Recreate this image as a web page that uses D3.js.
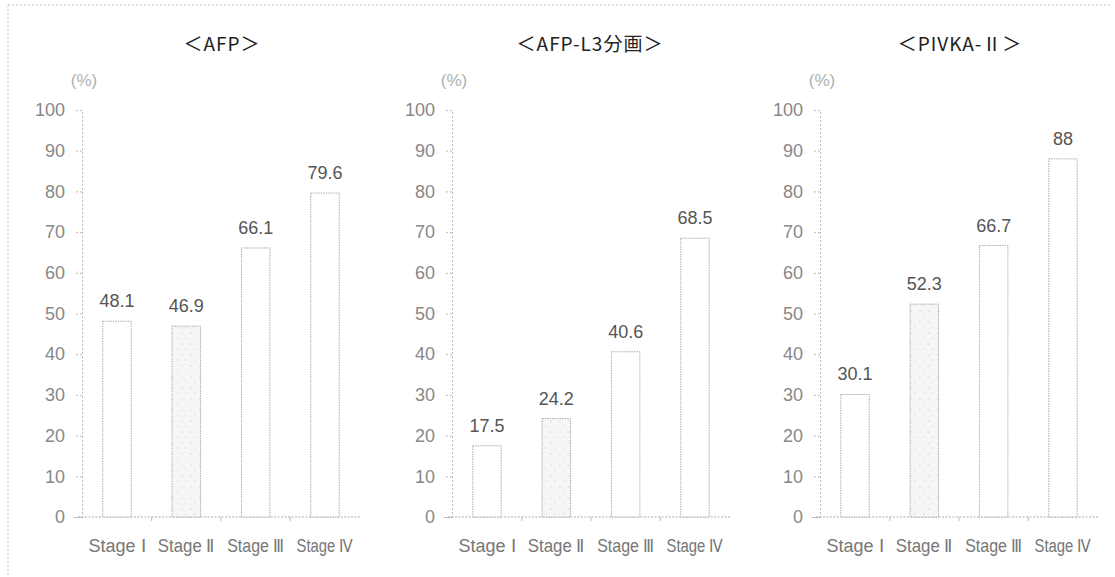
<!DOCTYPE html>
<html><head><meta charset="utf-8">
<script src="https://cdn.jsdelivr.net/npm/d3@7"></script>
<style>body{margin:0;background:#fff}svg{display:block}</style>
</head><body>
<script>
const categories = ["Stage Ⅰ", "Stage Ⅱ", "Stage Ⅲ", "Stage Ⅳ"];
const panelTitles = ["＜AFP＞", "＜AFP-L3分画＞", "＜PIVKA-Ⅱ＞"];
const afpValues = [48.1, 46.9, 66.1, 79.6];
const afpL3Values = [17.5, 24.2, 40.6, 68.5];
const pivkaValues = [30.1, 52.3, 66.7, 88];
const yTicks = [0, 10, 20, 30, 40, 50, 60, 70, 80, 90, 100];
const valueLabels = [["48.1","46.9","66.1","79.6"],["17.5","24.2","40.6","68.5"],["30.1","52.3","66.7","88"]];
const seriesList = [afpValues, afpL3Values, pivkaValues];

const W = 1115, H = 577;
const svg = d3.select("body").append("svg").attr("width", W).attr("height", H);
const defs = svg.append("defs");
const pat = defs.append("pattern").attr("id","stip").attr("patternUnits","userSpaceOnUse").attr("width",9).attr("height",11);
pat.append("rect").attr("width",9).attr("height",11).attr("fill","#f6f6f6");
pat.append("circle").attr("cx",2).attr("cy",3).attr("r",0.6).attr("fill","#bbb");
pat.append("circle").attr("cx",6).attr("cy",8).attr("r",0.5).attr("fill","#c8c8c8");

// outer frame
svg.append("line").attr("x1",8).attr("x2",1112).attr("y1",5).attr("y2",5)
  .attr("stroke","#c8c8c8").attr("stroke-dasharray","2,2");
svg.append("line").attr("x1",8).attr("x2",8).attr("y1",5).attr("y2",577)
  .attr("stroke","#c8c8c8").attr("stroke-dasharray","2,2");

const y = d3.scaleLinear().domain([0,100]).range([517,110]);
const axisStarts = [82, 452, 820];
const titleCenters = [222, 590, 960];
const axisWidth = 278;
const sans = "'Liberation Sans',Arial,sans-serif";

seriesList.forEach((vals, p) => {
  const x0 = axisStarts[p];
  const x = d3.scaleBand().domain(categories).range([x0, x0 + axisWidth]).paddingInner(0.59).paddingOuter(0.3);
  const g = svg.append("g");

  g.append("text").attr("x", titleCenters[p]).attr("y", 51).attr("text-anchor","middle")
    .attr("font-family","'Noto Sans CJK JP','Liberation Sans',sans-serif").attr("font-size",19)
    .attr("letter-spacing",1).attr("fill","#222").text(panelTitles[p]);

  g.append("text").attr("x", x0 + 2).attr("y", 86).attr("text-anchor","middle")
    .attr("font-family",sans).attr("font-size",17)
    .attr("fill","#b0b0b0").text("(%)");

  // y axis
  const ya = d3.axisLeft(y).tickValues(yTicks).tickSize(8).tickPadding(9);
  const yg = g.append("g").attr("transform",`translate(${x0},0)`).call(ya);
  yg.select(".domain").attr("stroke","#bbb").attr("stroke-dasharray","2,2");
  yg.selectAll(".tick line").attr("stroke","#bbb").attr("stroke-dasharray","2,2");
  yg.selectAll(".tick text").attr("font-family",sans).attr("font-size",18).attr("fill","#888");

  // x axis
  const xa = d3.axisBottom(x).tickSize(0).tickPadding(22);
  const xg = g.append("g").attr("transform",`translate(0,${y(0)})`).call(xa);
  xg.select(".domain").remove();
  xg.selectAll(".tick text").attr("font-family",sans).attr("font-size",18).attr("fill","#777")
    .attr("textLength",57).attr("lengthAdjust","spacingAndGlyphs");
  g.append("line").attr("x1", x0 - 4).attr("x2", x0 + axisWidth).attr("y1", y(0)).attr("y2", y(0))
    .attr("stroke","#aaa").attr("stroke-dasharray","2,1.5");
  categories.slice(1).forEach(c => {
    const bx = x(c) - x.step()*x.paddingInner()/2;
    g.append("line").attr("x1",bx).attr("x2",bx).attr("y1",y(0)).attr("y2",y(0)+4).attr("stroke","#bbb");
  });

  // bars
  g.selectAll("rect.bar").data(vals).join("rect").attr("class","bar")
    .attr("x",(d,i)=>x(categories[i])).attr("width",x.bandwidth())
    .attr("y",d=>y(d)).attr("height",d=>y(0)-y(d))
    .attr("fill",(d,i)=> i===1 ? "url(#stip)" : "#fff")
    .attr("stroke","#aaa").attr("stroke-width",1).attr("stroke-dasharray","1.5,1");

  g.selectAll("text.val").data(vals).join("text").attr("class","val")
    .attr("x",(d,i)=>x(categories[i]) + x.bandwidth()/2).attr("y",d=>y(d)-14)
    .attr("text-anchor","middle").attr("font-family",sans)
    .attr("font-size",18).attr("fill","#555").text((d,i)=>valueLabels[p][i]);
});
</script>
</body></html>
